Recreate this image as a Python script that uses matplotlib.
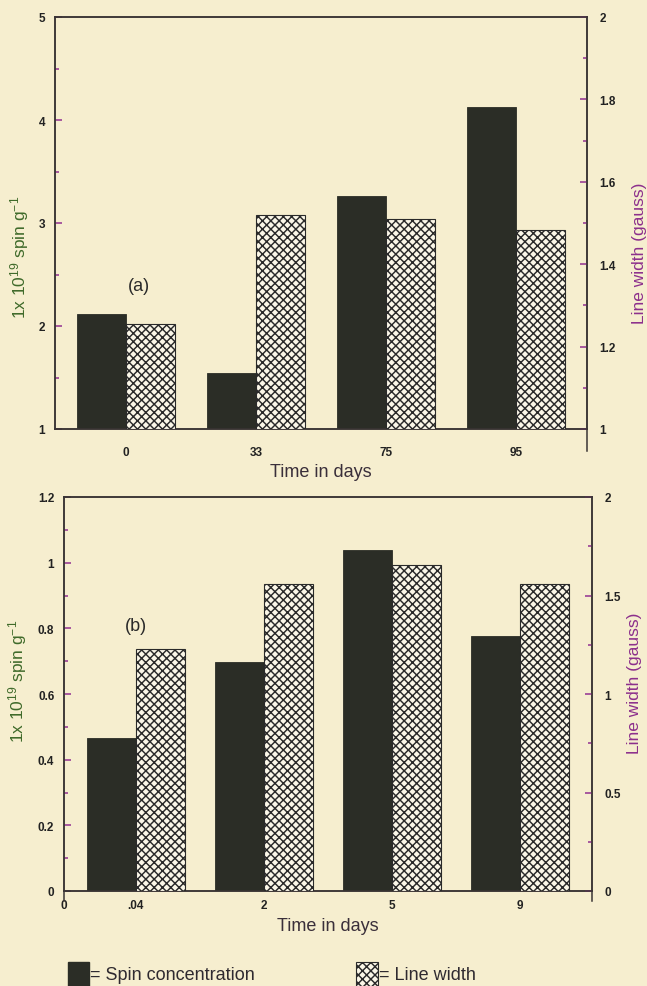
import numpy as np
import matplotlib.pyplot as plt
from matplotlib.patches import Rectangle

plt.rcParams["font.family"] = ["Liberation Sans", "DejaVu Sans"]
plt.rcParams["mathtext.default"] = "regular"
plt.rcParams["hatch.linewidth"] = 1.05

# ---- data ----
days_a = ["0", "33", "75", "95"]
spin_a = [2.12, 1.54, 3.26, 4.13]        # 1x10^19 spin g^-1
width_a = [1.255, 1.52, 1.51, 1.483]     # gauss

days_b = [".04", "2", "5", "9"]
spin_b = [0.467, 0.697, 1.04, 0.777]
width_b = [1.228, 1.558, 1.655, 1.558]

PAPER = "#f6eecf"
DARK = "#2b2d26"
HATCH_FACE = "#fbf7e8"
SPINE = "#3a3434"
TICK = "#9a3f96"
GREEN_LBL = "#3f6a2a"
PURPLE_LBL = "#8c2f8c"
HATCH = "xxxx"

W, H = 647, 987
fig = plt.figure(figsize=(W / 100, H / 100), dpi=100, facecolor=PAPER)


def px_axes(left, right, top, bottom):
    return fig.add_axes([left / W, 1 - bottom / H, (right - left) / W, (bottom - top) / H])


def style(ax):
    ax.set_facecolor("none")
    for s in ax.spines.values():
        s.set_color(SPINE)
        s.set_linewidth(1.1)


def panel(ax, days, spin, width, ylim, yticks, yminor, y2ticks, y2minor,
          ylabels, y2labels, bar_w, xl, tag, tag_xy, lpos, rpos, xpad, extra_zero):
    x = np.arange(len(days))
    style(ax)
    ax.bar(x - bar_w / 2, [v - ylim[0] for v in spin], bottom=ylim[0], width=bar_w,
           color=DARK, edgecolor=DARK, linewidth=0.6, zorder=3)
    ax.set_xlim(-xl, len(days) - 1 + xl)
    ax.set_ylim(*ylim)
    ax.set_yticks(yticks)
    ax.set_yticklabels(ylabels)
    ax.set_yticks(yminor, minor=True)
    ax.tick_params(axis="y", which="both", direction="in", color=TICK, width=1.2,
                   labelsize=8.5, pad=7, labelcolor="#222222")
    ax.tick_params(axis="y", which="major", length=5)
    ax.tick_params(axis="y", which="minor", length=3)
    for t in ax.get_yticklabels():
        t.set_fontweight("bold")
    if extra_zero:
        ax.set_xticks([-xl] + list(x))
        ax.set_xticklabels(["0"] + days)
    else:
        ax.set_xticks(x)
        ax.set_xticklabels(days)
    ax.tick_params(axis="x", length=0, labelsize=8.5, pad=xpad, labelcolor="#222222")
    for t in ax.get_xticklabels():
        t.set_fontweight("bold")
    ax.set_xlabel("Time in days", fontsize=13, color="#3a2f3a", labelpad=4)
    ax.set_ylabel("1x 10$^{19}$ spin g$^{-1}$", fontsize=12.5, color=GREEN_LBL)
    ax.yaxis.set_label_coords(lpos[0], lpos[1])

    ax2 = ax.twinx()
    style(ax2)
    ax2.bar(x + bar_w / 2, [v - y2ticks[0] for v in width], bottom=y2ticks[0], width=bar_w,
            color=HATCH_FACE, edgecolor="#2a2a2a", hatch=HATCH, linewidth=0.8, zorder=3)
    ax2.set_ylim(y2ticks[0], y2ticks[-1])
    ax2.set_yticks(y2ticks)
    ax2.set_yticklabels(y2labels)
    ax2.set_yticks(y2minor, minor=True)
    ax2.tick_params(axis="y", which="both", direction="in", color=TICK, width=1.2,
                    labelsize=8.5, pad=9, labelcolor="#222222")
    ax2.tick_params(axis="y", which="major", length=5)
    ax2.tick_params(axis="y", which="minor", length=3)
    for t in ax2.get_yticklabels():
        t.set_fontweight("bold")
    ax2.set_ylabel("Line width (gauss)", fontsize=12.5, color=PURPLE_LBL)
    ax2.yaxis.set_label_coords(rpos[0], rpos[1])
    # panel tag drawn on the top axes, placed in the left-axis data frame
    ax2.text(tag_xy[0], tag_xy[1], tag, transform=ax.transData, fontsize=13,
             color="#2a2a2a", ha="center", va="center", zorder=5)
    return ax, ax2


# ---- panel (a) ----
axa = px_axes(55, 587, 18, 430)
axa, axa2 = panel(axa, days_a, spin_a, width_a, (1, 5), [1, 2, 3, 4, 5],
                  [1.5, 2.5, 3.5, 4.5],
                  [1, 1.2, 1.4, 1.6, 1.8, 2], [1.1, 1.3, 1.5, 1.7, 1.9],
                  ["1", "2", "3", "4", "5"], ["1", "1.2", "1.4", "1.6", "1.8", "2"],
                  0.377, 0.546, "(a)", (0.1, 2.39), (-0.046, 0.42), (1.085, 0.43), 12, False)
axa2.spines["right"].set_bounds(0.947, 2)

# ---- panel (b) ----
axb = px_axes(64, 592, 498, 892)
axb, axb2 = panel(axb, days_b, spin_b, width_b, (0, 1.2), [0, 0.2, 0.4, 0.6, 0.8, 1, 1.2],
                  [0.1, 0.3, 0.5, 0.7, 0.9, 1.1],
                  [0, 0.5, 1, 1.5, 2], [0.25, 0.75, 1.25, 1.75],
                  ["0", "0.2", "0.4", "0.6", "0.8", "1", "1.2"], ["0", "0.5", "1", "1.5", "2"],
                  0.382, 0.561, "(b)", (0.0, 0.81), (-0.066, 0.534), (1.066, 0.53), 6, True)
axb.spines["left"].set_bounds(-0.03, 1.2)
axb2.spines["right"].set_bounds(-0.05, 2)

# ---- legend at the foot ----
fig.patches.append(Rectangle((68 / W, 1 - 987 / H), 21 / W, 24 / H, transform=fig.transFigure,
                             facecolor=DARK, edgecolor=DARK))
fig.patches.append(Rectangle((356 / W, 1 - 987 / H), 22 / W, 24 / H, transform=fig.transFigure,
                             facecolor=HATCH_FACE, edgecolor="#2a2a2a", hatch=HATCH, linewidth=0.8))
fig.text(90 / W, 1 - 976 / H, "= Spin concentration", fontsize=13, color="#2f2a30", va="center")
fig.text(379 / W, 1 - 976 / H, "= Line width", fontsize=13, color="#2f2a30", va="center")

fig.savefig("out.png", dpi=100, facecolor=PAPER)
